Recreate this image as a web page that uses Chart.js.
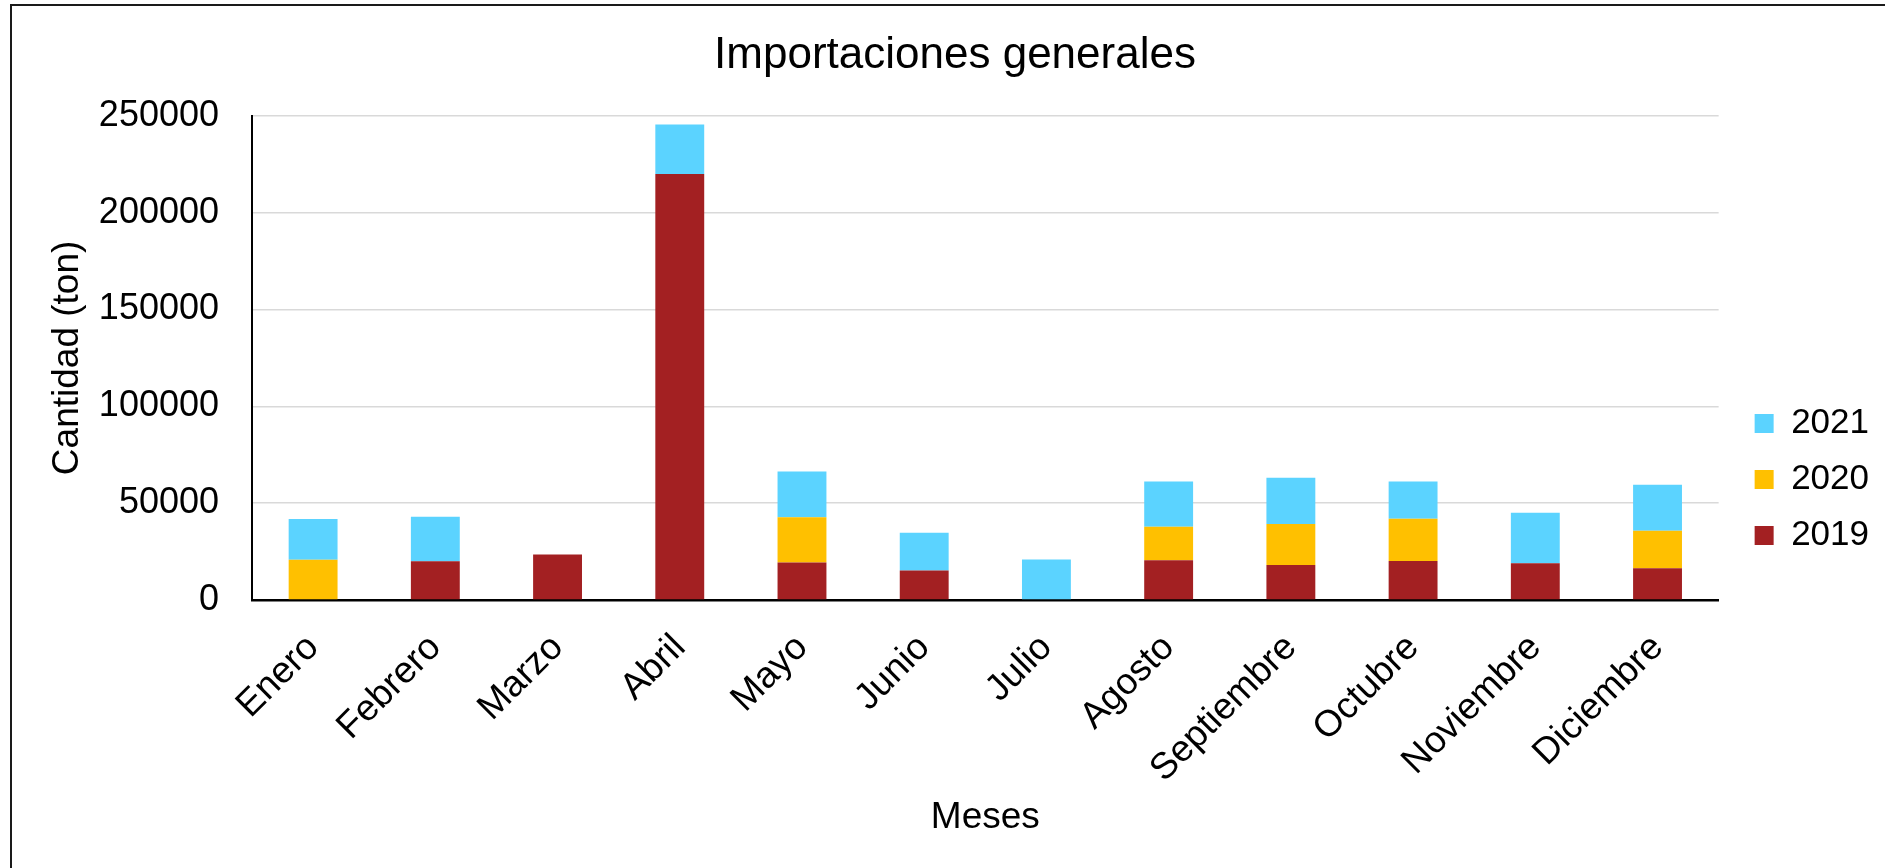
<!DOCTYPE html>
<html>
<head>
<meta charset="utf-8">
<script src="https://cdn.jsdelivr.net/npm/chart.js@4"></script>
<style>
  html, body { margin: 0; padding: 0; background: #ffffff; overflow: hidden; }
  #frame { position: absolute; left: 10px; top: 4px; width: 1900px; height: 900px;
           border-top: 2px solid #1a1a1a; border-left: 2px solid #1a1a1a; box-sizing: border-box; }
  #c { position: absolute; left: 0; top: 0; }
</style>
</head>
<body>
<div id="frame"></div>
<canvas id="c" width="1885" height="868"></canvas>
<script>
const months = ['Enero', 'Febrero', 'Marzo', 'Abril', 'Mayo', 'Junio', 'Julio', 'Agosto', 'Septiembre', 'Octubre', 'Noviembre', 'Diciembre'];
const values2019 = [0, 20000, 23500, 220000, 19300, 15200, 0, 20500, 18100, 20200, 19000, 16400];
const values2020 = [20800, 0, 0, 0, 23400, 0, 0, 17300, 21200, 21700, 0, 19300];
const values2021 = [21000, 23000, 0, 25500, 23600, 19500, 20900, 23400, 23800, 19300, 26000, 23800];
const yTicks = [0, 50000, 100000, 150000, 200000, 250000];
const titleText = 'Importaciones generales';
const yTitle = 'Cantidad (ton)';
const xTitle = 'Meses';

const FONT = "'Liberation Sans', Arial, sans-serif";
Chart.defaults.font.family = FONT;
Chart.defaults.color = '#000000';

const legendShift = {
  id: 'legendShift',
  afterLayout(chart) {
    const lg = chart.legend;
    if (lg) { lg.left += 15; lg.right += 15; lg.top += 57; lg.bottom += 57; }
  }
};

new Chart(document.getElementById('c'), {
  type: 'bar',
  data: {
    labels: months,
    datasets: [
      { label: '2019', data: values2019, backgroundColor: '#A32022' },
      { label: '2020', data: values2020, backgroundColor: '#FFC000' },
      { label: '2021', data: values2021, backgroundColor: '#5BD3FF' }
    ]
  },
  options: {
    responsive: false,
    animation: false,
    devicePixelRatio: 1,
    layout: { padding: { left: 46, top: 5, right: 21, bottom: 28 } },
    datasets: { bar: { barPercentage: 0.4, categoryPercentage: 1.0 } },
    plugins: {
      title: {
        display: true, text: titleText, color: '#000000',
        font: { size: 44, weight: 'normal', family: FONT },
        padding: { top: 24, bottom: 34 }
      },
      legend: {
        display: true, position: 'right', reverse: true,
        labels: {
          boxWidth: 19, boxHeight: 19, padding: 21, color: '#000000',
          font: { size: 35, family: FONT }
        }
      },
      tooltip: { enabled: false }
    },
    scales: {
      x: {
        stacked: true,
        grid: { display: false, drawTicks: false },
        border: { display: true, color: '#000000', width: 2.5 },
        ticks: { maxRotation: 45, minRotation: 45, padding: 26, color: '#000000', font: { size: 37, family: FONT } },
        title: { display: true, text: xTitle, color: '#000000', padding: 0, font: { size: 37, family: FONT } },
        afterFit(scale) { scale.height = 240; }
      },
      y: {
        stacked: true,
        min: 0, max: 250000,
        afterBuildTicks(scale) { scale.ticks = yTicks.map(v => ({ value: v })); },
        grid: { color: '#d9d9d9', lineWidth: 1.5, drawTicks: false },
        border: { display: true, color: '#000000', width: 2 },
        ticks: { padding: 33, color: '#000000', font: { size: 36, family: FONT }, callback: v => String(v) },
        title: { display: true, text: yTitle, color: '#000000', padding: 0, font: { size: 37, family: FONT } },
        afterFit(scale) { scale.width = 206; }
      }
    }
  },
  plugins: [legendShift]
});
</script>
</body>
</html>
